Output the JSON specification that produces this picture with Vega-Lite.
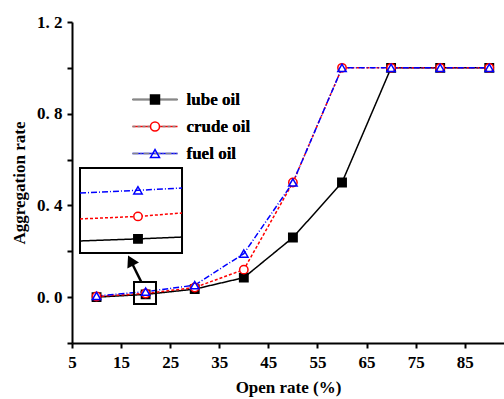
{
  "$schema": "https://vega.github.io/schema/vega-lite/v6.json",
  "width": 432,
  "height": 321,
  "autosize": {"type": "none"},
  "padding": {"left": 72, "top": 22, "right": 0, "bottom": 56},
  "background": "white",
  "config": {
    "view": {"stroke": null},
    "font": "Liberation Serif",
    "axis": {
      "domainColor": "black",
      "domainWidth": 2,
      "tickColor": "black",
      "tickWidth": 2,
      "tickSize": 5,
      "grid": false,
      "labelFont": "Liberation Serif",
      "labelFontSize": 17,
      "labelFontWeight": "bold",
      "labelColor": "black",
      "titleFont": "Liberation Serif",
      "titleFontSize": 17,
      "titleFontWeight": "bold",
      "titleColor": "black"
    },
    "legend": {
      "labelFont": "Liberation Serif",
      "labelFontSize": 17,
      "labelFontWeight": "bold",
      "labelColor": "black",
      "padding": 0,
      "rowPadding": 9
    }
  },
  "datasets": {
    "rates": [
      {"oil": "lube oil", "open": 10, "rate": 0.0},
      {"oil": "lube oil", "open": 20, "rate": 0.012},
      {"oil": "lube oil", "open": 30, "rate": 0.035},
      {"oil": "lube oil", "open": 40, "rate": 0.085},
      {"oil": "lube oil", "open": 50, "rate": 0.26},
      {"oil": "lube oil", "open": 60, "rate": 0.5},
      {"oil": "lube oil", "open": 70, "rate": 1.0},
      {"oil": "lube oil", "open": 80, "rate": 1.0},
      {"oil": "lube oil", "open": 90, "rate": 1.0},
      {"oil": "crude oil", "open": 10, "rate": 0.003},
      {"oil": "crude oil", "open": 20, "rate": 0.016},
      {"oil": "crude oil", "open": 30, "rate": 0.042},
      {"oil": "crude oil", "open": 40, "rate": 0.12},
      {"oil": "crude oil", "open": 50, "rate": 0.5},
      {"oil": "crude oil", "open": 60, "rate": 1.0},
      {"oil": "crude oil", "open": 70, "rate": 1.0},
      {"oil": "crude oil", "open": 80, "rate": 1.0},
      {"oil": "crude oil", "open": 90, "rate": 1.0},
      {"oil": "fuel oil", "open": 10, "rate": 0.005},
      {"oil": "fuel oil", "open": 20, "rate": 0.024},
      {"oil": "fuel oil", "open": 30, "rate": 0.052},
      {"oil": "fuel oil", "open": 40, "rate": 0.19},
      {"oil": "fuel oil", "open": 50, "rate": 0.5},
      {"oil": "fuel oil", "open": 60, "rate": 1.0},
      {"oil": "fuel oil", "open": 70, "rate": 1.0},
      {"oil": "fuel oil", "open": 80, "rate": 1.0},
      {"oil": "fuel oil", "open": 90, "rate": 1.0}
    ],
    "zoomFrame": [{"open": 6.63, "open2": 27.41, "rate": 0.563, "rate2": 0.193}],
    "zoomLines": [
      {"oil": "lube oil", "open": 6.63, "rate": 0.245, "marker": false},
      {"oil": "lube oil", "open": 18.44, "rate": 0.254, "marker": true},
      {"oil": "lube oil", "open": 27.41, "rate": 0.262, "marker": false},
      {"oil": "crude oil", "open": 6.63, "rate": 0.341, "marker": false},
      {"oil": "crude oil", "open": 18.44, "rate": 0.352, "marker": true},
      {"oil": "crude oil", "open": 27.41, "rate": 0.367, "marker": false},
      {"oil": "fuel oil", "open": 6.63, "rate": 0.454, "marker": false},
      {"oil": "fuel oil", "open": 18.44, "rate": 0.466, "marker": true},
      {"oil": "fuel oil", "open": 27.41, "rate": 0.476, "marker": false}
    ],
    "lens": [{"open": 17.63, "open2": 22.11, "rate": 0.066, "rate2": -0.03}],
    "pointer": [{"open": 19.12, "rate": 0.066, "open2": 16.94, "rate2": 0.16}]
  },
  "layer": [
    {
      "data": {"name": "rates"},
      "mark": {"type": "line", "strokeWidth": 1.5},
      "encoding": {
        "x": {"field": "open", "type": "quantitative", "scale": {"domain": [5, 93], "nice": false, "zero": false},
              "axis": {"values": [5, 10, 15, 20, 25, 30, 35, 40, 45, 50, 55, 60, 65, 70, 75, 80, 85, 90],
                       "format": "d",
                       "labelOverlap": false, "labelFlush": false,
                       "labelPadding": 6, "title": "Open rate (%)", "titlePadding": 9,
                       "encode": {"labels": {"update": {"opacity": {"signal": "indexof([10, 20, 30, 40, 50, 60, 70, 80, 90], datum.value) >= 0 ? 1 : 0"}}}}}},
        "y": {"field": "rate", "type": "quantitative", "scale": {"domain": [-0.2, 1.2], "nice": false, "zero": false},
              "axis": {"values": [-0.2, 0, 0.2, 0.4, 0.6, 0.8, 1.0, 1.2],
                       "labelExpr": "indexof([0, 0.4, 0.8, 1.2], datum.value) >= 0 ? replace(format(datum.value, '.1f'), '.', '. ') : ''",
                       "labelOverlap": false, "labelFlush": false,
                       "labelPadding": 5, "title": "Aggregation rate", "titlePadding": 8}},
        "stroke": {"field": "oil", "type": "nominal", "sort": ["lube oil", "crude oil", "fuel oil"],
                   "scale": {"range": ["black", "red", "blue"]},
                   "legend": {"orient": "none", "legendX": 74.5, "legendY": 69, "title": null, "symbolType": "M-5,0H5",
                              "symbolSize": 81, "symbolStrokeWidth": 1.5, "labelOffset": 23}},
        "strokeDash": {"field": "oil", "type": "nominal", "sort": ["lube oil", "crude oil", "fuel oil"],
                       "scale": {"range": [[1, 0], [3, 2], [6, 2, 1, 2]]},
                       "legend": {"orient": "none", "legendX": 74.5, "legendY": 69, "title": null, "symbolType": "M-5,0H5",
                                  "symbolSize": 81, "symbolStrokeWidth": 1.5, "labelOffset": 23}}
      }
    },
    {
      "data": {"name": "zoomFrame"},
      "mark": {"type": "rect", "fill": "white", "stroke": "black", "strokeWidth": 2},
      "encoding": {
        "x": {"field": "open", "type": "quantitative"},
        "x2": {"field": "open2"},
        "y": {"field": "rate", "type": "quantitative"},
        "y2": {"field": "rate2"}
      }
    },
    {
      "data": {"name": "zoomLines"},
      "mark": {"type": "line", "strokeWidth": 1.5},
      "encoding": {
        "x": {"field": "open", "type": "quantitative"},
        "y": {"field": "rate", "type": "quantitative"},
        "stroke": {"field": "oil", "type": "nominal", "sort": ["lube oil", "crude oil", "fuel oil"]},
        "strokeDash": {"field": "oil", "type": "nominal", "sort": ["lube oil", "crude oil", "fuel oil"]}
      }
    },
    {
      "data": {"name": "zoomLines"},
      "transform": [{"filter": "datum.marker"}],
      "mark": {"type": "point", "filled": false, "size": 70, "strokeWidth": 1.5, "opacity": 1},
      "encoding": {
        "x": {"field": "open", "type": "quantitative"},
        "y": {"field": "rate", "type": "quantitative"},
        "color": {"field": "oil", "type": "nominal", "scale": {"domain": ["lube oil", "crude oil", "fuel oil"], "range": ["black", "red", "blue"]}},
        "shape": {"field": "oil", "type": "nominal", "scale": {"domain": ["lube oil", "crude oil", "fuel oil"], "range": ["square", "circle", "triangle-up"]}},
        "fill": {"field": "oil", "type": "nominal", "scale": {"domain": ["lube oil", "crude oil", "fuel oil"], "range": ["black", "white", "transparent"]}}
      }
    },
    {
      "data": {"name": "lens"},
      "mark": {"type": "rect", "fill": "transparent", "stroke": "black", "strokeWidth": 2},
      "encoding": {
        "x": {"field": "open", "type": "quantitative"},
        "x2": {"field": "open2"},
        "y": {"field": "rate", "type": "quantitative"},
        "y2": {"field": "rate2"}
      }
    },
    {
      "data": {"name": "pointer"},
      "mark": {"type": "rule", "color": "black", "strokeWidth": 2.5},
      "encoding": {
        "x": {"field": "open", "type": "quantitative"},
        "x2": {"field": "open2"},
        "y": {"field": "rate", "type": "quantitative"},
        "y2": {"field": "rate2"}
      }
    },
    {
      "data": {"name": "pointer"},
      "mark": {"type": "point", "shape": "triangle-up", "filled": true, "color": "black", "size": 170, "angle": 333, "opacity": 1},
      "encoding": {
        "x": {"field": "open2", "type": "quantitative"},
        "y": {"field": "rate2", "type": "quantitative"}
      }
    },
    {
      "data": {"name": "rates"},
      "mark": {"type": "point", "filled": false, "size": 70, "strokeWidth": 1.5, "opacity": 1},
      "encoding": {
        "x": {"field": "open", "type": "quantitative"},
        "y": {"field": "rate", "type": "quantitative"},
        "color": {"field": "oil", "type": "nominal", "scale": {"domain": ["lube oil", "crude oil", "fuel oil"], "range": ["black", "red", "blue"]},
                  "legend": {"orient": "none", "legendX": 74.5, "legendY": 69, "title": null, "symbolSize": 81,
                             "symbolStrokeWidth": 1.5, "labelOpacity": 0, "labelOffset": 23}},
        "shape": {"field": "oil", "type": "nominal", "scale": {"domain": ["lube oil", "crude oil", "fuel oil"], "range": ["square", "circle", "triangle-up"]},
                  "legend": {"orient": "none", "legendX": 74.5, "legendY": 69, "title": null, "symbolSize": 81,
                             "symbolStrokeWidth": 1.5, "labelOpacity": 0, "labelOffset": 23}},
        "fill": {"field": "oil", "type": "nominal", "scale": {"domain": ["lube oil", "crude oil", "fuel oil"], "range": ["black", "white", "transparent"]},
                 "legend": {"orient": "none", "legendX": 74.5, "legendY": 69, "title": null, "symbolSize": 81,
                            "symbolStrokeWidth": 1.5, "labelOpacity": 0, "labelOffset": 23}}
      }
    },
    {
      "mark": {"type": "rule", "color": "black", "strokeWidth": 2},
      "encoding": {"y": {"datum": 1.2, "type": "quantitative"}}
    }
  ]
}
